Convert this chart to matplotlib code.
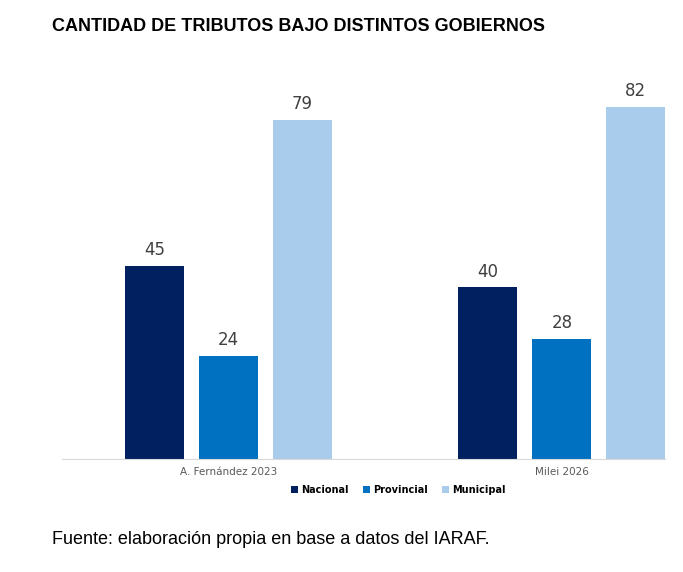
import numpy as np
import matplotlib.pyplot as plt

# Data
gobiernos = ["A. Fernández 2023", "Milei 2026"]
nacional = [45, 40]
provincial = [24, 28]
municipal = [79, 82]

series = [("Nacional", nacional, "#002060"),
          ("Provincial", provincial, "#0070C0"),
          ("Municipal", municipal, "#A9CBEC")]

fig = plt.figure(figsize=(6.83, 5.72), dpi=100)
ax = fig.add_axes([0.0908, 0.1976, 0.883, 0.646])

x = np.arange(len(gobiernos))
w = 0.177
for i, (name, vals, col) in enumerate(series):
    pos = x + (i - 1) * 0.222
    bars = ax.bar(pos, vals, w, color=col, label=name)
    for b, v in zip(bars, vals):
        ax.text(b.get_x() + b.get_width() / 2, v + 1.5, str(v), ha="center",
                va="bottom", fontsize=12, color="#404040")

ax.set_xlim(-0.5, 1.31)
ax.set_ylim(0, 86)
ax.set_yticks([])
ax.set_xticks(x)
ax.set_xticklabels(gobiernos, fontsize=7.5, color="#595959")
ax.tick_params(axis="x", length=0, pad=6)
for s in ["top", "right", "left"]:
    ax.spines[s].set_visible(False)
ax.spines["bottom"].set_color("#D9D9D9")

fig.legend(loc="center", bbox_to_anchor=(0.583, 0.143), ncol=3, frameon=False,
           prop={"size": 7, "weight": "bold"}, handlelength=0.7, handleheight=0.7,
           columnspacing=1.5, handletextpad=0.3)

fig.text(0.076, 0.953, "CANTIDAD DE TRIBUTOS BAJO DISTINTOS GOBIERNOS",
         fontsize=13, fontweight="bold", va="center", family="Liberation Sans")
fig.text(0.076, 0.056, "Fuente: elaboración propia en base a datos del IARAF.",
         fontsize=13, va="center", family="Liberation Sans")

fig.savefig("out.png", dpi=100)
